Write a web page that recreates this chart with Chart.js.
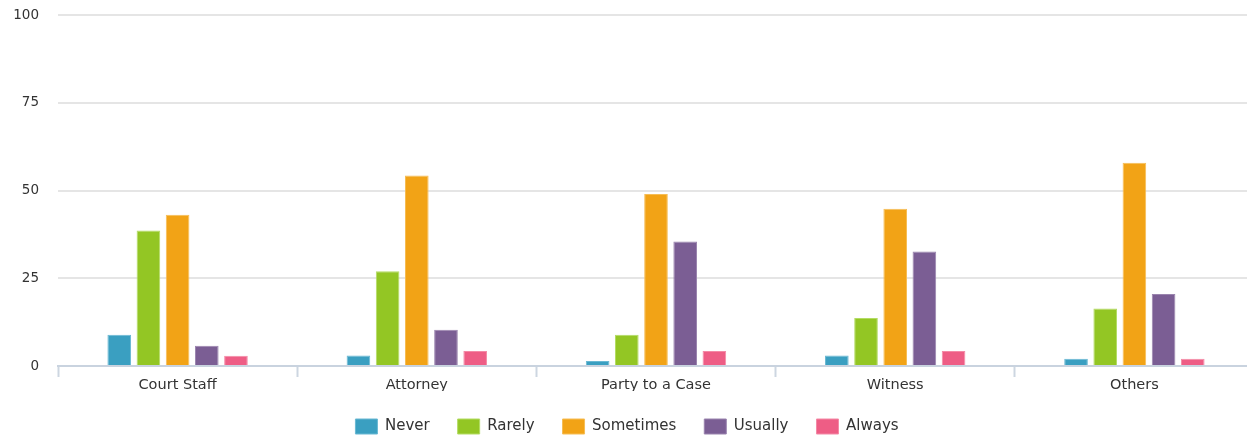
<!DOCTYPE html>
<html>
<head>
<meta charset="utf-8">
<script src="https://cdn.jsdelivr.net/npm/chart.js@4"></script>
<style>
  html, body { margin: 0; padding: 0; background: #fff; overflow: hidden; }
</style>
</head>
<body>
<canvas id="myChart" width="1254" height="440"></canvas>
<script>
const categories = ['Court Staff', 'Attorney', 'Party to a Case', 'Witness', 'Others'];

const never = [8.9, 3.0, 1.4, 3.0, 2.1];
const rarely = [38.6, 27.0, 8.9, 13.7, 16.4];
const sometimes = [43.1, 54.3, 49.0, 44.8, 57.9];
const usually = [5.8, 10.3, 35.5, 32.6, 20.5];
const always = [2.9, 4.3, 4.3, 4.3, 2.1];

const yTicks = [0, 25, 50, 75, 100];

const ctx = document.getElementById('myChart');

Chart.defaults.font.family = '"DejaVu Sans", Verdana, sans-serif';
Chart.defaults.color = '#333';

function series(label, data, fill, border) {
    return {
        label: label,
        data: data,
        backgroundColor: fill,
        borderColor: border,
        borderWidth: 1,
        categoryPercentage: 0.61,
        barPercentage: 0.81
    };
}

new Chart(ctx, {
    type: 'bar',
    data: {
        labels: categories,
        datasets: [
            series('Never', never, '#3a9fc1', '#69b8d3'),
            series('Rarely', rarely, '#93c624', '#b3dc63'),
            series('Sometimes', sometimes, '#f2a316', '#f6bd55'),
            series('Usually', usually, '#7b5e94', '#9a84ae'),
            series('Always', always, '#ee5d85', '#f48aa6')
        ]
    },
    options: {
        responsive: false,
        animation: false,
        layout: {
            padding: { top: 15, left: 0, right: 0, bottom: -4 }
        },
        plugins: {
            tooltip: { enabled: false },
            legend: {
                position: 'bottom',
                labels: {
                    boxWidth: 22,
                    boxHeight: 15,
                    padding: 28,
                    color: '#333',
                    font: { size: 15 }
                }
            }
        },
        scales: {
            x: {
                offset: true,
                grid: {
                    offset: true,
                    drawOnChartArea: false,
                    drawTicks: true,
                    tickLength: 11,
                    tickColor: '#cdd6e1',
                    tickWidth: 2
                },
                border: { color: '#c9d3df', width: 2 },
                ticks: { padding: 0, font: { size: 14.5 }, color: '#333' },
                afterFit: function (scale) { scale.height = 25; }
            },
            y: {
                min: 0,
                max: 100,
                afterBuildTicks: function (scale) {
                    scale.ticks = yTicks.map(v => ({ value: v }));
                },
                grid: {
                    drawTicks: true,
                    tickLength: 19,
                    tickColor: 'rgba(0,0,0,0)',
                    color: '#e5e5e5',
                    lineWidth: 2
                },
                border: { display: false },
                ticks: { padding: 0, font: { size: 13.5 }, color: '#333' },
                afterFit: function (scale) { scale.width = 58; }
            }
        }
    }
});
</script>
</body>
</html>
